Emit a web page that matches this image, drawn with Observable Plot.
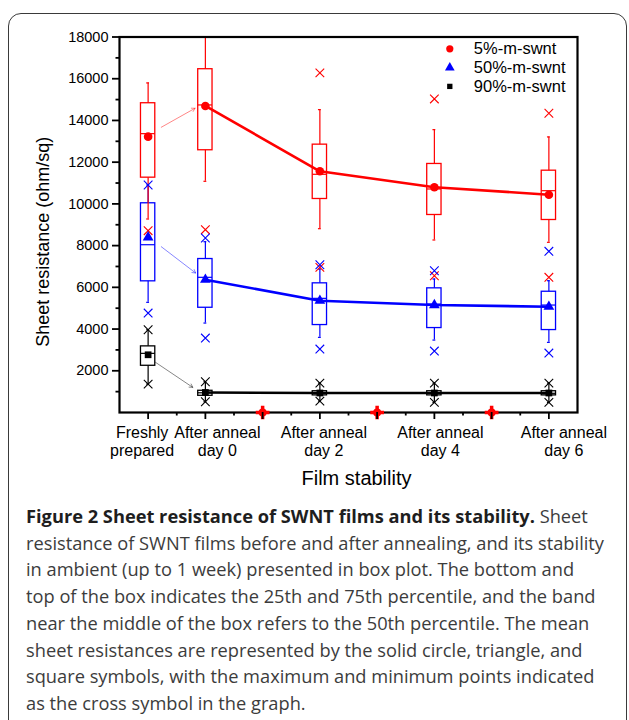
<!DOCTYPE html>
<html><head><meta charset="utf-8">
<script src="https://cdn.jsdelivr.net/npm/d3@7"></script>
<script src="https://cdn.jsdelivr.net/npm/@observablehq/plot@0.6"></script>
<style>
body{margin:0;background:#fff;width:629px;height:720px;overflow:hidden;position:relative;font-family:"Liberation Sans",Arial,sans-serif}
#border{position:absolute;left:8px;top:13px;width:619px;height:800px;border:1.6px solid #3a3a3a;border-radius:13px;box-sizing:border-box}
#chart{position:absolute;left:0;top:0}
#caption{position:absolute;left:26px;top:503px;font-family:"Open Sans";font-size:18px;line-height:26.7px;color:#3c3c3c;white-space:nowrap;transform-origin:0 0}
#caption b{color:#1e1e1e}
</style></head><body>
<div id="border"></div><div id="chart"></div>
<div id="caption">
<div><b>Figure 2 Sheet resistance of SWNT films and its stability.</b> Sheet</div>
<div id="capline2"><span>resistance of SWNT films before and after annealing, and its stability</span></div>
<div>in ambient (up to 1 week) presented in box plot. The bottom and</div>
<div>top of the box indicates the 25th and 75th percentile, and the band</div>
<div>near the middle of the box refers to the 50th percentile. The mean</div>
<div>sheet resistances are represented by the solid circle, triangle, and</div>
<div>square symbols, with the maximum and minimum points indicated</div>
<div>as the cross symbol in the graph.</div>
</div>
<script>
// ---- data ----
const categories = ["Freshly\nprepared", "After anneal\nday 0", "After anneal\nday 2", "After anneal\nday 4", "After anneal\nday 6"];
const positions = [1, 2, 4, 6, 8];
const series = ["5%-m-swnt", "50%-m-swnt", "90%-m-swnt"];
const yTicks = [2000, 4000, 6000, 8000, 10000, 12000, 14000, 16000, 18000];
const xTitle = "Film stability";
const yTitle = "Sheet resistance (ohm/sq)";

// 5%-m-swnt
const q3_5 = [14825, 16456, 12840, 11914, 11592];
const median_5 = [13367, 14743, 11419, 10715, 10633];
const q1_5 = [11257, 12571, 10235, 9468, 9228];
const mean_5 = [13223, 14695, 11563, 10796, 10441];
const whiskerHi_5 = [15798, 18000, 14518, 13559, 13209];
const whiskerLo_5 = [9276, 11083, 8811, 8269, 8158];
const max_5 = [null, null, 16278, 15031, 14345];
const min_5 = [8715, 8763, 6959, 6556, 6480];

// 50%-m-swnt
const q3_50 = [10029, 7357, 6192, 5952, 5789];
const median_50 = [8043, 6480, 5472, 5199, 5151];
const q1_50 = [6288, 5021, 4192, 4048, 3952];
const mean_50 = [8398, 6365, 5357, 5151, 5070];
const whiskerHi_50 = [10906, 8187, 6878, 6398, 6317];
const whiskerLo_50 = [5281, 4288, 3602, 3472, 3362];
const max_50 = [10906, 8364, 7084, 6796, 7727];
const min_50 = [4767, 3568, 3041, 2945, 2849];

// 90%-m-swnt
const q3_90 = [3170, 1041, 1020, 1020, 1020];
const median_90 = [2835, 945, 920, 920, 920];
const q1_90 = [2240, 801, 820, 820, 820];
const mean_90 = [2767, 960, 935, 935, 935];
const whiskerHi_90 = [3966, 1472, 1410, 1410, 1410];
const whiskerLo_90 = [1362, 513, 547, 484, 484];
const max_90 = [3966, 1472, 1410, 1410, 1410];
const min_90 = [1362, 513, 547, 484, 484];

// empty (zero) groups between the measured groups
const zeroPositions = [3, 5, 7];
const zeroValues = [0, 0, 0];

// arrows freshly -> day 0 (data units)
const arrowX1 = [1.23, 1.23, 1.13];
const arrowY1 = [13674, 7947, 2403];
const arrowX2 = [1.82, 1.83, 1.78];
const arrowY2 = [14585, 6686, 1204];

// ---- styles ----
const colors = ["#ff0000", "#0000ff", "#000000"];
const meanSymbols = ["circle", "triangle", "square"];
const meanR = [4.3, 4.0, 3.8];
const labelShift = [-6, 12, 4, 6, 15];

const stats = [
  [q1_5, median_5, q3_5, mean_5, whiskerLo_5, whiskerHi_5, min_5, max_5],
  [q1_50, median_50, q3_50, mean_50, whiskerLo_50, whiskerHi_50, min_50, max_50],
  [q1_90, median_90, q3_90, mean_90, whiskerLo_90, whiskerHi_90, min_90, max_90]
];
const rows = [];
series.forEach((s, k) => {
  const [q1, med, q3, mean, lo, hi, mn, mx] = stats[k];
  positions.forEach((p, i) => rows.push({series: s, pos: p, q1: q1[i], med: med[i], q3: q3[i], mean: mean[i], lo: lo[i], hi: hi[i], min: mn[i], max: mx[i]}));
});
const crosses = [];
rows.forEach(d => {
  if (d.max != null) crosses.push({series: d.series, pos: d.pos, v: d.max});
  if (d.min != null) crosses.push({series: d.series, pos: d.pos, v: d.min});
});
const arrows = series.map((s, k) => ({series: s, x1: arrowX1[k], y1: arrowY1[k], x2: arrowX2[k], y2: arrowY2[k]}));
const zeros = zeroPositions.map((p, i) => ({pos: p, v: zeroValues[i]}));

const hw = 0.125;
const font = "Liberation Sans, Arial, sans-serif";

const marks = [
  Plot.rect(rows, {x1: d => d.pos - hw, x2: d => d.pos + hw, y1: "q1", y2: "q3", stroke: "series", fill: "none", strokeWidth: 1.3}),
  Plot.ruleY(rows, {y: "med", x1: d => d.pos - hw, x2: d => d.pos + hw, stroke: "series", strokeWidth: 1.2}),
  Plot.ruleX(rows, {x: "pos", y1: "q3", y2: "hi", stroke: "series", strokeWidth: 1.2}),
  Plot.ruleX(rows, {x: "pos", y1: "q1", y2: "lo", stroke: "series", strokeWidth: 1.2}),
  Plot.ruleY(rows, {y: "hi", x1: d => d.pos - 0.025, x2: d => d.pos + 0.025, stroke: "series", strokeWidth: 1.2}),
  Plot.ruleY(rows, {y: "lo", x1: d => d.pos - 0.025, x2: d => d.pos + 0.025, stroke: "series", strokeWidth: 1.2}),
  Plot.dot(crosses, {x: "pos", y: "v", stroke: "series", symbol: "times", r: 4, strokeWidth: 1.1}),
  Plot.line(rows.filter(d => d.pos > 1), {x: "pos", y: "mean", z: "series", stroke: "series", strokeWidth: 2.6}),
  ...series.map((s, k) => Plot.dot(rows.filter(d => d.series === s), {x: "pos", y: "mean", fill: colors[k], symbol: meanSymbols[k], r: meanR[k]})),
  Plot.arrow(arrows, {x1: "x1", y1: "y1", x2: "x2", y2: "y2", stroke: "series", strokeWidth: 0.8, strokeOpacity: 0.6, headLength: 7}),
  Plot.frame({strokeWidth: 2.2, stroke: "black"}),
  Plot.dot(zeros, {x: "pos", y: "v", symbol: "plus", stroke: "#ff0000", r: 4.5, strokeWidth: 3.5, clip: false}),
  Plot.dot(zeros, {x: "pos", y: "v", fill: "#ff0000", r: 4, clip: false}),
  Plot.axisY({ticks: yTicks, tickSize: 7, tickPadding: 4, tickFormat: d => String(d), fontSize: 14.5, strokeWidth: 1.8, label: null, fill: "black"}),
  Plot.axisY({ticks: d3.range(1000, 18000, 2000), tickSize: 3.5, tickFormat: () => "", strokeWidth: 1.8, label: null}),
  Plot.axisX({ticks: d3.range(1, 9), tickSize: 7, tickFormat: () => "", strokeWidth: 1.8, label: null}),
  Plot.axisX({ticks: d3.range(1.5, 8.5, 1), tickSize: 3.5, tickFormat: () => "", strokeWidth: 1.8, label: null}),
  ...categories.map((c, i) => Plot.text([c], {x: positions[i], frameAnchor: "bottom", lineAnchor: "top", dy: 13, dx: labelShift[i], fontSize: 16, lineHeight: 1.1, fill: "black"})),
  Plot.text([xTitle], {frameAnchor: "bottom", lineAnchor: "middle", dy: 66, dx: 8, fontSize: 20, fill: "black"}),
  Plot.text([yTitle], {frameAnchor: "left", textAnchor: "middle", lineAnchor: "middle", rotate: -90, dx: -76, dy: 17, fontSize: 18, fill: "black"}),
  ...series.map((s, k) => Plot.dot([s], {frameAnchor: "top-right", dx: -127.7, dy: 11.8 + k * 18.8, fill: colors[k], symbol: meanSymbols[k], r: k === 2 ? 3 : 3.6})),
  ...series.map((s, k) => Plot.text([s], {frameAnchor: "top-right", dx: -103.7, dy: 11.8 + k * 18.8, textAnchor: "start", lineAnchor: "middle", fontSize: 16.5, fill: "black"}))
];

const chart = Plot.plot({
  width: 629, height: 500,
  marginLeft: 119, marginRight: 52, marginTop: 36.5, marginBottom: 88,
  x: {domain: [0.5, 8.5], axis: null},
  y: {domain: [0, 18000], axis: null},
  color: {domain: series, range: colors},
  style: {background: "none", fontFamily: font, color: "black", overflow: "visible"},
  marks
});
document.getElementById("chart").appendChild(chart);

// fit caption width to reference (line 2 spans ~578px)
const cap = document.getElementById("caption");
const w = document.querySelector("#capline2 span").getBoundingClientRect().width;
cap.style.transform = `scaleX(${578 / w})`;
</script>
</body></html>
